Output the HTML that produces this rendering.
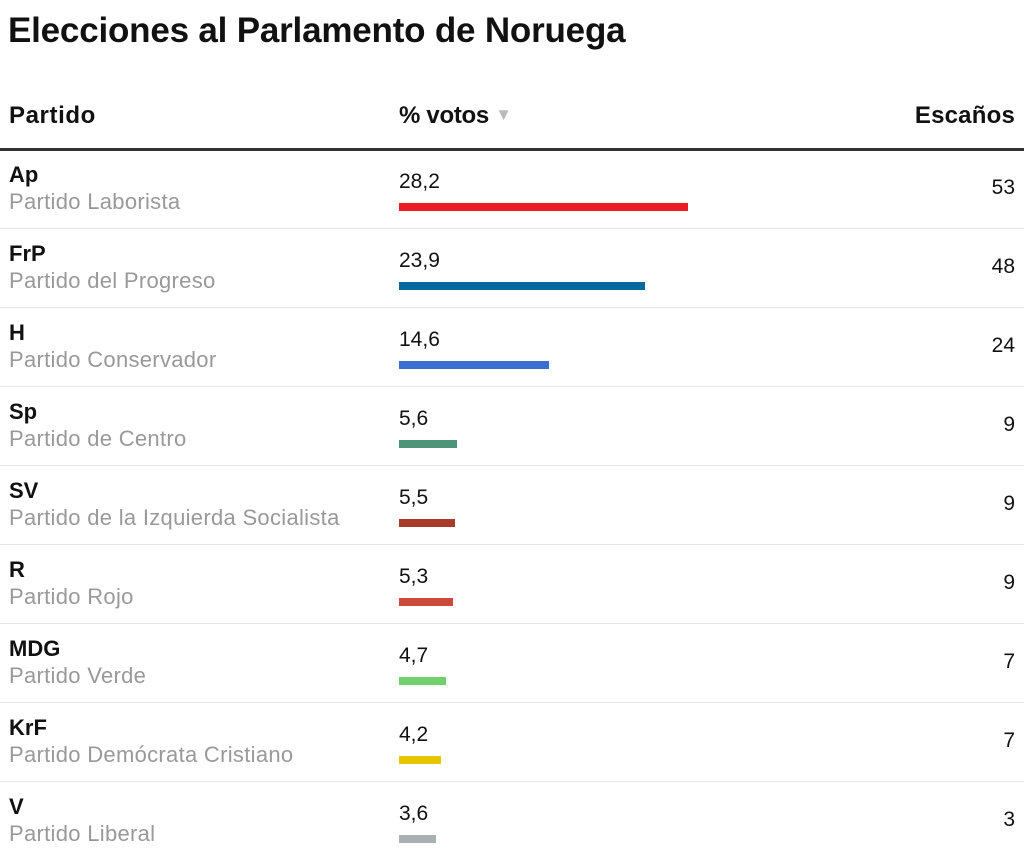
<!DOCTYPE html>
<html><head><meta charset="utf-8"><style>
body{margin:0;width:1024px;height:868px;background:#fff;font-family:"Liberation Sans",sans-serif;color:#111;position:relative;overflow:hidden}
.a{position:absolute;white-space:nowrap}
h1{position:absolute;left:8px;top:11px;margin:0;font-size:35px;font-weight:bold;letter-spacing:-0.2px}
.h{font-weight:bold;font-size:24px;top:102px;letter-spacing:0.2px}
.ab{font-weight:bold;font-size:22px;left:9px}
.nm{font-size:22px;color:#999;left:9px;letter-spacing:0.3px}
.v{font-size:21px;left:399px}
.s{font-size:21px;right:9px}
.bar{position:absolute;left:399px;height:8px}
.sep{position:absolute;left:0;width:1024px;height:1px;background:#e6e6e6}
</style></head><body>
<h1>Elecciones al Parlamento de Noruega</h1>
<div class="a h" style="left:9px;letter-spacing:0.6px">Partido</div>
<div class="a h" style="left:399px;letter-spacing:-0.3px">% votos <span style="color:#bbb;font-size:17px;position:relative;top:-3px">▼</span></div>
<div class="a h" style="right:9px">Escaños</div>
<div style="position:absolute;left:0;top:148px;width:1024px;height:3px;background:#333"></div>
<div id="rows"></div>
<script>
var d=[["Ap","Partido Laborista","28,2",289,"#ec1c24","53"],
["FrP","Partido del Progreso","23,9",246,"#046a9e","48"],
["H","Partido Conservador","14,6",150,"#3a6fd0","24"],
["Sp","Partido de Centro","5,6",58,"#4e9478","9"],
["SV","Partido de la Izquierda Socialista","5,5",56,"#aa3a2c","9"],
["R","Partido Rojo","5,3",54,"#cc4a3c","9"],
["MDG","Partido Verde","4,7",47,"#6fd06c","7"],
["KrF","Partido Demócrata Cristiano","4,2",42,"#e6c500","7"],
["V","Partido Liberal","3,6",37,"#aab0b0","3"]];
var h="";
d.forEach(function(r,i){var y=150+i*79;
h+='<div class="a ab" style="top:'+(y+12)+'px">'+r[0]+'</div>';
h+='<div class="a nm" style="top:'+(y+39)+'px">'+r[1]+'</div>';
h+='<div class="a v" style="top:'+(y+20)+'px">'+r[2]+'</div>';
h+='<div class="bar" style="top:'+(y+53)+'px;width:'+r[3]+'px;background:'+r[4]+'"></div>';
h+='<div class="a s" style="top:'+(y+26)+'px">'+r[5]+'</div>';
if(i<8)h+='<div class="sep" style="top:'+(y+78)+'px"></div>';});
document.getElementById("rows").innerHTML=h;
</script>
</body></html>
